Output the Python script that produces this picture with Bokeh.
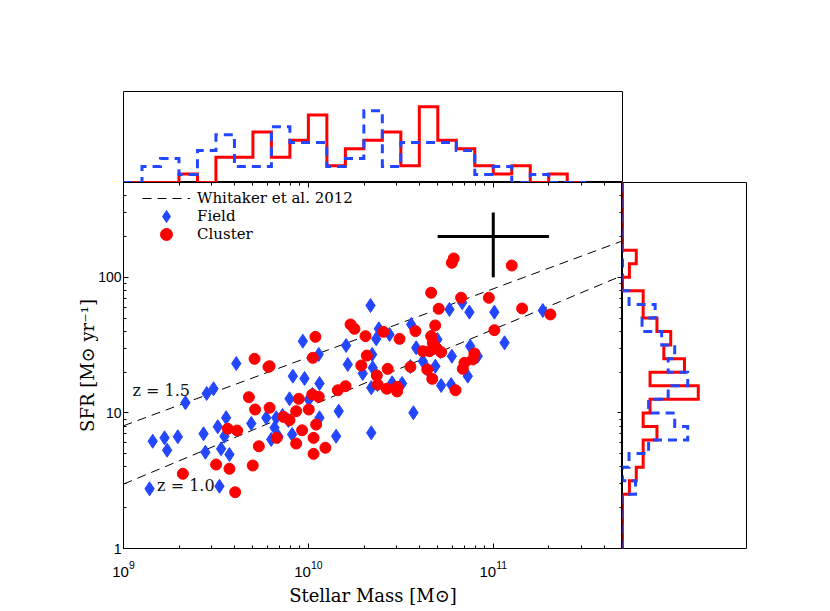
import numpy as np
from bokeh.plotting import figure
from bokeh.models import Range1d, LogAxis, LogTicker, Legend, LegendItem, PrintfTickFormatter
from bokeh.layouts import column, row
from bokeh.embed import file_html
from bokeh.resources import INLINE
from bokeh.core.properties import value

BLUE = "#2347FF"
RED = "#FF0000"

# ---------------- data (log10 stellar mass, log10 SFR) ----------------
field_logm = [9.610, 9.487, 9.450, 9.335, 9.772, 9.555, 9.510, 9.433, 9.546, 9.691,
              9.158, 9.222, 9.294, 9.236, 9.443, 9.528, 9.573, 9.141, 9.519,
              10.336, 9.970, 10.204, 10.381, 10.439, 10.367, 10.556, 10.583, 10.056, 10.213,
              10.345, 10.294, 10.348, 9.916, 9.979, 10.060, 10.453, 10.507, 10.340, 9.898,
              10.002, 10.060, 10.164, 10.568, 9.826, 9.817, 9.912, 10.150, 10.340, 9.799,
              10.763, 10.832, 10.871, 11.006, 11.268, 11.061, 10.875, 10.776, 10.916, 10.687,
              10.619, 10.862, 10.718, 10.772, 10.698,
              9.860, 9.838, 9.892, 10.022, 10.368, 10.374, 10.552, 10.666, 10.644, 10.714]
field_logsfr = [1.364, 1.178, 1.143, 1.075, 0.964, 0.964, 0.898, 0.846, 0.828, 0.922,
                0.791, 0.816, 0.824, 0.725, 0.710, 0.735, 0.693, 0.440, 0.459,
                1.792, 1.529, 1.497, 1.620, 1.578, 1.546, 1.652, 1.480, 1.431, 1.357,
                1.431, 1.291, 1.333, 1.271, 1.254, 1.217, 1.222, 1.217, 1.185, 1.104,
                1.099, 0.964, 1.013, 1.001, 0.964, 0.890, 0.841, 0.828, 0.853, 0.804,
                1.763, 1.812, 1.743, 1.743, 1.755, 1.517, 1.492, 1.418, 1.418, 1.344,
                1.381, 1.271, 1.202, 1.209, 1.541,
                0.981, 0.826, 0.944, 1.136, 1.276, 1.209, 1.342, 1.563, 1.320, 1.453]

cluster_logm = [9.709, 9.784, 9.678, 9.712, 9.564, 9.615, 9.732, 9.501, 9.573, 9.699, 9.321, 9.604,
                10.038, 10.228, 10.249, 10.309, 10.406, 10.493, 10.579, 10.024, 10.316, 10.286,
                10.429, 10.552, 10.370, 10.375, 10.424, 10.480, 10.480, 9.790, 10.201, 10.159,
                10.021, 10.056, 9.948, 10.002, 9.934, 9.790, 9.865, 9.898, 10.042, 9.966,
                9.829, 10.028, 9.934, 10.092, 10.028,
                10.776, 10.786, 11.100, 10.664, 10.826, 10.976, 10.705, 11.156, 11.309, 11.006,
                10.686, 10.664, 10.673, 10.691, 10.619, 10.655, 10.718, 10.898, 10.889, 10.844,
                10.835, 10.643, 10.670, 10.796]
cluster_logsfr = [1.399, 1.340, 1.116, 1.025, 0.883, 0.870, 0.754, 0.619, 0.588, 0.612, 0.551, 0.415,
                  1.561, 1.652, 1.620, 1.566, 1.598, 1.546, 1.603, 1.406, 1.423, 1.350,
                  1.325, 1.340, 1.276, 1.209, 1.178, 1.192, 1.158, 1.344, 1.197, 1.167,
                  1.136, 1.119, 1.104, 1.025, 1.013, 1.038, 0.971, 0.946, 0.914, 0.872,
                  0.816, 0.816, 0.774, 0.743, 0.698,
                  2.107, 2.139, 2.087, 1.886, 1.849, 1.849, 1.768, 1.770, 1.726, 1.610,
                  1.645, 1.566, 1.517, 1.480, 1.455, 1.455, 1.448, 1.438, 1.394, 1.369,
                  1.325, 1.320, 1.251, 1.167]

# Whitaker et al. 2012 main sequence at z=1.0 and z=1.5 (end points)
whitaker_logm = [9.0, 11.7]
whitaker_z10_logsfr = [0.475, 2.014]
whitaker_z15_logsfr = [0.905, 2.269]

# typical error
err_mass = 1e11
err_mass_lo, err_mass_hi = 5e10, 2e11
err_sfr = 200
err_sfr_lo, err_sfr_hi = 100, 300

# line labels
zlabel_text = ["z = 1.5", "z = 1.0"]
zlabel_mass = [1.12e9, 1.52e9]
zlabel_sfr = [14.7, 2.92]

# histograms
mass_edges = [9.0, 9.1, 9.2, 9.3, 9.4, 9.5, 9.6, 9.7, 9.8, 9.9, 10.0, 10.1, 10.2,
              10.3, 10.4, 10.5, 10.6, 10.7, 10.8, 10.9, 11.0, 11.1, 11.2, 11.3, 11.4, 11.5]
cluster_mass_hist = [0, 0, 0, 1, 0, 3, 3, 6, 3, 5, 8, 2, 4, 5, 6, 2, 9, 5, 4, 2, 1, 2, 0, 1, 0]
field_mass_hist = [0, 1.89, 2.84, 0.95, 3.79, 5.68, 1.89, 1.89, 6.63, 4.74, 4.74, 1.89, 2.84,
                   8.53, 1.89, 4.74, 4.74, 4.74, 3.79, 0.95, 1.89, 0, 0.95, 0, 0]

sfr_edges = [0.0, 0.1, 0.2, 0.3, 0.4, 0.5, 0.6, 0.7, 0.8, 0.9, 1.0, 1.1, 1.2, 1.3,
             1.4, 1.5, 1.6, 1.7, 1.8, 1.9, 2.0, 2.1, 2.2, 2.3, 2.4, 2.5, 2.6, 2.7]
cluster_sfr_hist = [0, 0, 0, 0, 1, 2, 3, 3, 5, 3, 4, 11, 4, 9, 6, 7, 5, 3, 3, 0, 1, 2, 0, 0, 0, 0, 0]
field_sfr_hist = [0, 0, 0, 0, 1.89, 0, 0.95, 3.79, 9.47, 7.58, 3.79, 6.63, 9.47, 6.63, 7.58,
                  5.68, 2.84, 4.74, 0.95, 0, 0, 0, 0, 0, 0, 0, 0]

legend_labels = ["Whitaker et al. 2012", "Field", "Cluster"]

# ---------------- figures ----------------
x_range = Range1d(1e9, 5e11)
y_range = Range1d(1, 500)

LEFT = 123
FRAME_W = 499
FRAME_H = 366
TOP_H = 91
BOTTOM = 61


def style_axis(ax, labels=True):
    ax.ticker = LogTicker(num_minor_ticks=10)
    ax.major_tick_in = 5
    ax.major_tick_out = 0
    ax.minor_tick_in = 3
    ax.minor_tick_out = 0
    ax.axis_line_color = "black"
    ax.major_tick_line_color = "black"
    ax.minor_tick_line_color = "black"
    if labels:
        ax.major_label_text_font = "Liberation Sans"
        ax.major_label_text_font_size = "15px"
        ax.major_label_text_color = "black"
        ax.axis_label_text_font = "DejaVu Serif"
        ax.axis_label_text_font_size = "18px"
        ax.axis_label_text_font_style = "normal"
        ax.axis_label_text_color = "black"
    else:
        ax.major_label_text_font_size = "1px"
        ax.major_label_text_alpha = 0
        ax.major_label_standoff = 0


main = figure(width=LEFT + FRAME_W, height=FRAME_H + BOTTOM, x_axis_type="log", y_axis_type="log",
              x_range=x_range, y_range=y_range, output_backend="svg",
              toolbar_location=None, min_border_left=LEFT, min_border_right=0,
              min_border_top=0, min_border_bottom=BOTTOM)
main.grid.visible = False
main.outline_line_color = "black"
main.background_fill_color = "white"
main.border_fill_color = "white"

style_axis(main.xaxis[0])
style_axis(main.yaxis[0])
main.xaxis[0].axis_label = "Stellar Mass [M\u2299]"
main.yaxis[0].axis_label = "SFR [M\u2299 yr\u207b\u00b9]"
main.xaxis[0].major_label_standoff = 12
main.xaxis[0].axis_label_standoff = 5
main.yaxis[0].major_label_standoff = 2
main.yaxis[0].axis_label_standoff = -3
main.yaxis[0].major_label_text_font_size = "14px"
main.yaxis[0].formatter = PrintfTickFormatter(format="%d")

top_ax = LogAxis()
style_axis(top_ax, labels=False)
main.add_layout(top_ax, "above")
right_ax = LogAxis()
style_axis(right_ax, labels=False)
main.add_layout(right_ax, "right")

wl10 = main.line(10 ** np.array(whitaker_logm), 10 ** np.array(whitaker_z10_logsfr),
                 line_color="black", line_width=1, line_dash="9 6")
wl15 = main.line(10 ** np.array(whitaker_logm), 10 ** np.array(whitaker_z15_logsfr),
                 line_color="black", line_width=1, line_dash="9 6")

fr = main.scatter(10 ** np.array(field_logm), 10 ** np.array(field_logsfr), marker="diamond",
                  size=14, fill_color=BLUE, line_color=BLUE, line_width=1)
cr = main.scatter(10 ** np.array(cluster_logm), 10 ** np.array(cluster_logsfr), marker="circle",
                  size=11, fill_color=RED, line_color=RED, line_width=1)

main.segment(x0=[err_mass_lo], y0=[err_sfr], x1=[err_mass_hi], y1=[err_sfr],
             line_color="black", line_width=3)
main.segment(x0=[err_mass], y0=[err_sfr_lo], x1=[err_mass], y1=[err_sfr_hi],
             line_color="black", line_width=3)

main.text(x=zlabel_mass, y=zlabel_sfr, text=zlabel_text, text_font=value("DejaVu Serif"),
          text_font_size=value("16px"), text_baseline="middle", text_align="left",
          text_color="#111111")

# legend: one single-row legend per entry so rows can sit closer than the glyph box
for label, rend, ybot in zip(legend_labels, [wl10, fr, cr], [335, 317, 299]):
    lg = Legend(items=[LegendItem(label=label, renderers=[rend])],
                location=(19, ybot), glyph_width=48, glyph_height=30, label_height=30,
                spacing=0, padding=0, margin=0, label_standoff=7,
                border_line_alpha=0, background_fill_alpha=0,
                label_text_font="DejaVu Serif", label_text_font_size="15px",
                label_text_color="black")
    main.add_layout(lg)

# top histogram
top = figure(width=LEFT + FRAME_W + 2, height=91 + TOP_H, x_axis_type="log", x_range=x_range,
             y_range=Range1d(0, 10.8),
             output_backend="svg", toolbar_location=None, x_axis_location=None,
             y_axis_location=None, min_border_left=LEFT, min_border_right=2,
             min_border_top=91, min_border_bottom=0)
top.grid.visible = False
top.outline_line_color = "black"
mx = 10 ** np.array(mass_edges)
top.step(mx, list(cluster_mass_hist) + [0], mode="after", line_color=RED, line_width=3,
         line_join="miter")
top.step(mx, list(field_mass_hist) + [0], mode="after", line_color=BLUE, line_width=3,
         line_dash="9 6", line_join="miter")

# right histogram


def vstairs(edges, h):
    xs, ys = [0.0], [edges[0]]
    for i in range(len(h)):
        xs += [h[i], h[i]]
        ys += [edges[i], edges[i + 1]]
    xs.append(0.0)
    ys.append(edges[-1])
    return np.array(xs), 10 ** np.array(ys)


right = figure(width=126, height=FRAME_H + BOTTOM, y_axis_type="log", x_range=Range1d(0, 18),
               y_range=y_range,
               output_backend="svg", toolbar_location=None, x_axis_location=None,
               y_axis_location=None, min_border_left=0, min_border_right=2,
               min_border_top=0, min_border_bottom=BOTTOM)
right.grid.visible = False
right.outline_line_color = "black"
rx, ry = vstairs(sfr_edges, cluster_sfr_hist)
right.line(rx, ry, line_color=RED, line_width=3, line_join="miter")
bx, by = vstairs(sfr_edges, field_sfr_hist)
right.line(bx, by, line_color=BLUE, line_width=3, line_dash="9 6", line_join="miter")

layout = column(top, row(main, right))
open("out.html", "w").write(file_html(layout, INLINE))
